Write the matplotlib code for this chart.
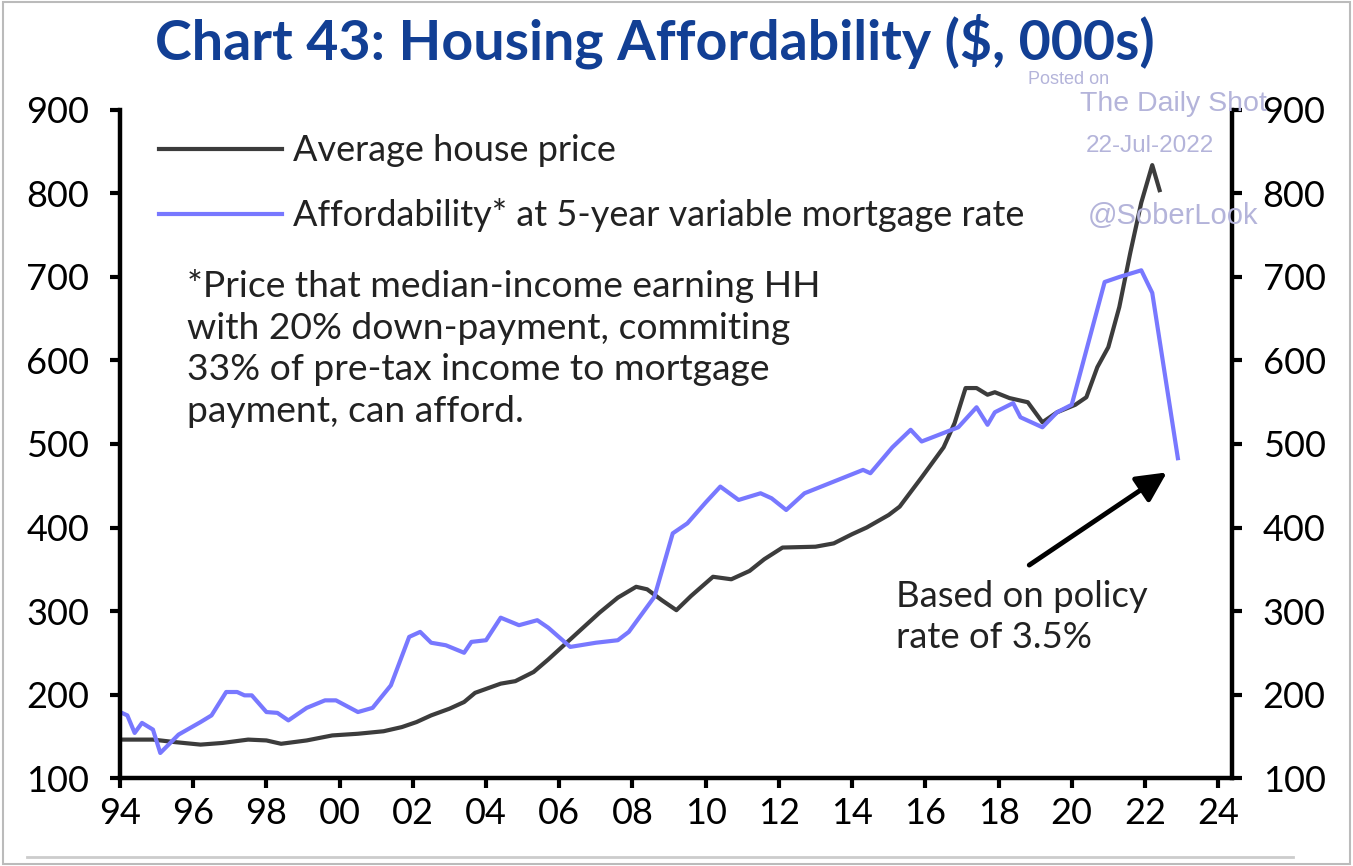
import matplotlib
matplotlib.use("Agg")
import matplotlib.pyplot as plt
from matplotlib.lines import Line2D
from matplotlib.patches import Rectangle

# data (x = year, y = $ thousands)
price_years = [1994.0, 1994.9, 1995.5, 1996.2, 1996.8, 1997.5, 1998.0, 1998.4, 1999.1, 1999.8,
               2000.5, 2001.2, 2001.7, 2002.1, 2002.5, 2003.0, 2003.4, 2003.7, 2004.4, 2004.8,
               2005.3, 2005.7, 2006.2, 2006.7, 2007.1, 2007.6, 2008.1, 2008.4, 2008.8, 2009.2,
               2009.6, 2010.2, 2010.7, 2011.2, 2011.6, 2012.1, 2013.0, 2013.5, 2014.0, 2014.4,
               2015.0, 2015.3, 2015.9, 2016.5, 2016.8, 2017.1, 2017.4, 2017.7, 2017.9, 2018.3,
               2018.8, 2018.9, 2019.2, 2019.6, 2020.1, 2020.4, 2020.7, 2021.0, 2021.3, 2021.6,
               2021.9, 2022.2, 2022.4]
price_vals = [146, 146, 143, 140, 142, 146, 145, 141, 145, 151,
              153, 156, 161, 167, 175, 183, 191, 202, 213, 216,
              227, 242, 262, 282, 298, 316, 329, 326, 313, 301,
              318, 341, 338, 348, 362, 376, 377, 381, 392, 400,
              415, 425, 460, 496, 525, 567, 567, 559, 562, 555,
              550, 544, 526, 538, 547, 556, 592, 616, 664, 729,
              789, 834, 804]

afford_years = [1994.0, 1994.2, 1994.4, 1994.6, 1994.9, 1995.1, 1995.6, 1996.2, 1996.5, 1996.9,
                1997.2, 1997.4, 1997.6, 1998.0, 1998.3, 1998.6, 1999.1, 1999.6, 1999.9, 2000.5,
                2000.9, 2001.4, 2001.9, 2002.2, 2002.5, 2002.9, 2003.4, 2003.6, 2004.0, 2004.4,
                2004.9, 2005.4, 2005.7, 2006.3, 2007.0, 2007.6, 2007.9, 2008.6, 2009.1, 2009.5,
                2010.0, 2010.4, 2010.9, 2011.5, 2011.8, 2012.2, 2012.7, 2013.5, 2014.3, 2014.5,
                2015.1, 2015.6, 2015.9, 2016.9, 2017.4, 2017.7, 2017.9, 2018.4, 2018.6, 2019.2,
                2019.6, 2020.0, 2020.9, 2021.3, 2021.9, 2022.2, 2022.9]
afford_vals = [179, 175, 154, 166, 158, 130, 152, 167, 175, 203,
               203, 199, 199, 179, 178, 169, 184, 193, 193, 179,
               184, 211, 269, 275, 262, 259, 250, 263, 265, 292,
               283, 289, 280, 257, 262, 265, 275, 317, 393, 405,
               430, 449, 433, 441, 435, 421, 441, 455, 469, 465,
               496, 517, 503, 520, 544, 523, 538, 549, 532, 520,
               538, 547, 694, 700, 708, 681, 483]

year_ticks = list(range(1994, 2025, 2))
year_labels = [f"{y % 100:02d}" for y in year_ticks]
value_ticks = list(range(100, 1000, 100))

plt.rcParams['font.family'] = ['Lato', 'DejaVu Sans']
plt.rcParams['text.color'] = '#222222'

fig = plt.figure(figsize=(13.53, 8.66), dpi=100)
ax = fig.add_axes([0.0887, 0.1016, 0.8219, 0.7714])

ax.plot(price_years, price_vals, color='#3c3c3c', lw=3, label='Average house price')
ax.plot(afford_years, afford_vals, color='#7878ff', lw=3,
        label='Affordability* at 5-year variable mortgage rate')

ax.set_xlim(1994, 2024.38)
ax.set_ylim(100, 900)
ax.set_xticks(year_ticks)
ax.set_xticklabels(year_labels)
ax.set_yticks(value_ticks)
ax.tick_params(axis='both', labelsize=26, width=3, length=7, direction='out')
ax.tick_params(axis='y', pad=15, right=True, labelright=True)
ax.tick_params(axis='x', pad=7)
ax.spines['top'].set_visible(False)
for s in ['left', 'right', 'bottom']:
    ax.spines[s].set_linewidth(3.2)

leg = ax.legend(loc='upper left', bbox_to_anchor=(0.006, 1.012), frameon=False, fontsize=26,
                handlelength=3.4, handletextpad=0.3, labelspacing=0.85)

ax.text(1995.83, 710, "*Price that median-income earning HH\nwith 20% down-payment, commiting\n"
        "33% of pre-tax income to mortgage\npayment, can afford.",
        fontsize=26.8, va='top', ha='left', linespacing=1.33)
ax.text(2015.2, 337, "Based on policy\nrate of 3.5%", fontsize=26.3, va='top', ha='left',
        linespacing=1.3)
ax.annotate("", xy=(2022.6, 466), xytext=(2018.84, 355),
            arrowprops=dict(arrowstyle='-|>', color='black', lw=3.5, mutation_scale=45,
                            shrinkA=0, shrinkB=0))

fig.text(0.484, 0.952, "Chart 43: Housing Affordability ($, 000s)", ha='center', va='center',
         fontsize=40, fontweight='bold', color='#123f94')

# watermark
wm = '#b4b4da'
fig.text(1069 / 1353, 1 - 80 / 866, "Posted on", ha='center', va='center', fontsize=13,
         color=wm, family='Liberation Sans')
fig.text(1173 / 1353, 1 - 104 / 866, "The Daily Shot", ha='center', va='center', fontsize=20.5,
         color=wm, family='Liberation Sans')
fig.text(1150 / 1353, 1 - 146 / 866, "22-Jul-2022", ha='center', va='center', fontsize=17.5,
         color=wm, family='Liberation Sans')
fig.text(1173 / 1353, 1 - 216 / 866, "@SoberLook", ha='center', va='center', fontsize=21,
         color=wm, family='Liberation Sans')

fig.add_artist(Line2D([27 / 1353, 1293 / 1353], [1 - 857 / 866, 1 - 857 / 866],
                      color='#cccccc', lw=2, transform=fig.transFigure))
fig.add_artist(Rectangle((0.002, 0.002), 0.996, 0.996, fill=False, edgecolor='#bbbbbb',
                         lw=1.5, transform=fig.transFigure))

fig.savefig("out.png", dpi=100)
